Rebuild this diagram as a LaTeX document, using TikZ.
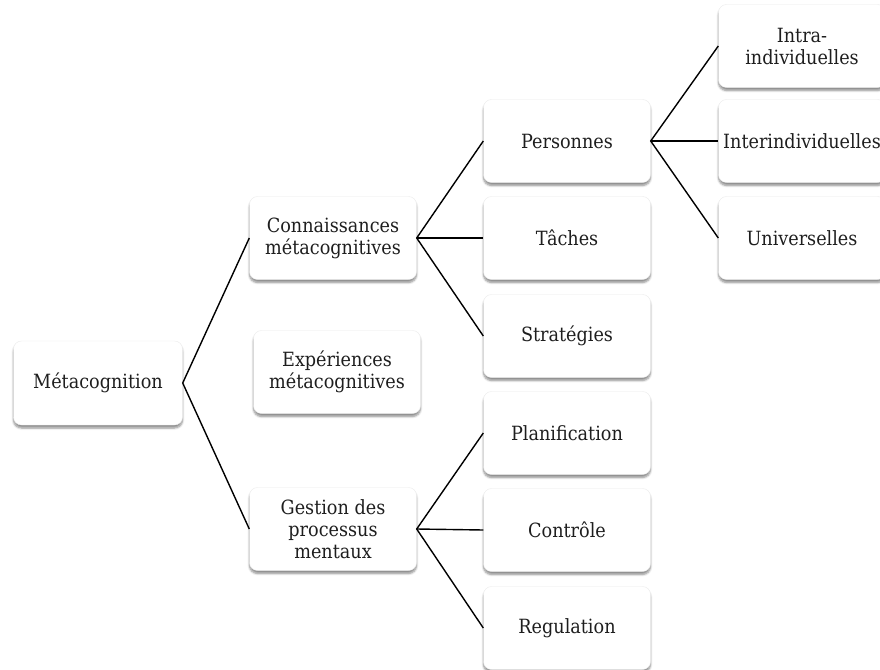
\documentclass[tikz,border=0pt]{standalone}
\usepackage{fontspec}
\setmainfont{DejaVu Serif Condensed}
\usepackage{tikz}
\usetikzlibrary{shadows.blur}
\definecolor{encre}{RGB}{30,30,30}

\begin{document}
\begin{tikzpicture}[x=1pt,y=-1pt,
  boite/.style={rectangle,rounded corners=8pt,fill=white,draw=black!8,
    minimum width=167pt,minimum height=83pt,inner sep=0pt,align=center,
    text=encre,font=\fontsize{19.6}{22}\selectfont,
    blur shadow={shadow xshift=0pt,shadow yshift=-3pt,shadow blur steps=6,shadow opacity=45}},
  lien/.style={line width=1.4pt,black}]
\useasboundingbox (0,0) rectangle (880,669);
\clip (0,0) rectangle (880,669);
\node [boite,minimum width=169pt,minimum height=84pt] (meta) at (98,383) {Métacognition};
\node [boite] (conn) at (333,238) {Connaissances\\métacognitives};
\node [boite] (exp) at (337,372) {Expériences\\métacognitives};
\node [boite] (gest) at (333,529) {Gestion des\\processus\\mentaux};
\node [boite] (pers) at (567,141) {Personnes};
\node [boite] (tach) at (567,238) {Tâches};
\node [boite] (strat) at (567,336) {Stratégies};
\node [boite] (plan) at (567,433) {Planification};
\node [boite] (ctrl) at (567,530) {Contrôle};
\node [boite] (reg) at (567,628) {Regulation};
\node [boite] (intra) at (802,46) {Intra-\\individuelles};
\node [boite] (inter) at (802,141) {Interindividuelles};
\node [boite] (univ) at (802,238) {Universelles};
\draw [lien] (conn.west) -- (meta.east) -- (gest.west);
\draw [lien] (pers.west) -- (conn.east) -- (strat.west);
\draw [lien] (conn.east) -- (tach.west);
\draw [lien] (plan.west) -- (gest.east) -- (reg.west);
\draw [lien] (gest.east) -- (ctrl.west);
\draw [lien] (intra.west) -- (pers.east) -- (univ.west);
\draw [lien] (pers.east) -- (inter.west);
\end{tikzpicture}
\end{document}
